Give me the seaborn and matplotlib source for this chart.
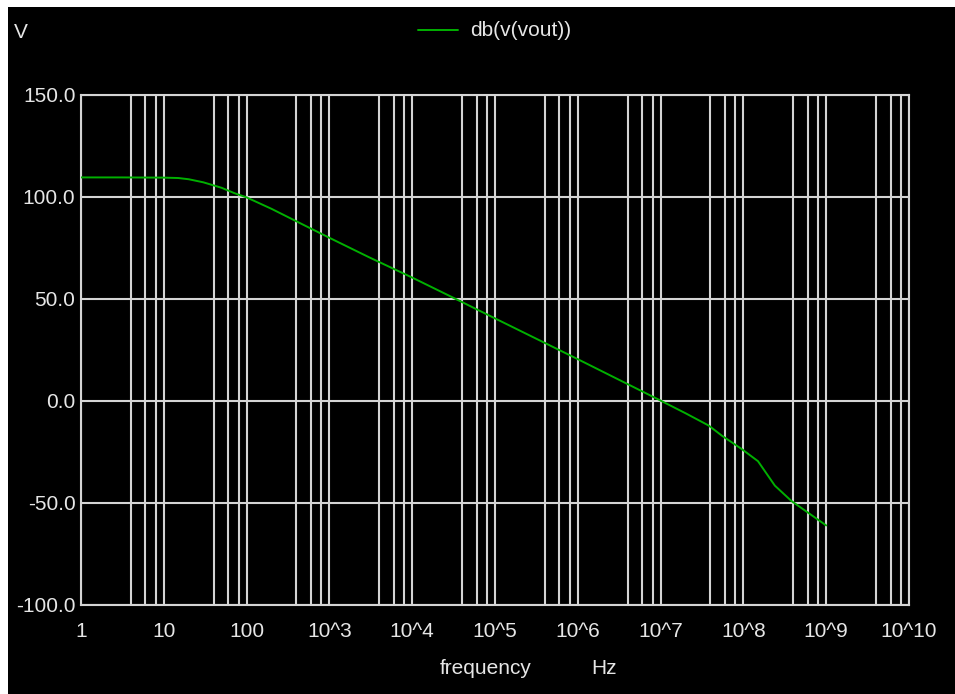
import numpy as np
import pandas as pd
import matplotlib
matplotlib.use('Agg')
import matplotlib.pyplot as plt
from matplotlib.patches import Rectangle
import seaborn as sns

# values (AC sweep, dB of vout)
freq = [1, 3, 10, 15, 20, 30, 50, 70, 100, 200, 500, 1e3, 3e3, 1e4, 3e4, 1e5,
        1e6, 1e7, 2e7, 3.8e7, 5.5e7, 9.5e7, 1.5e8, 2.4e8, 3.8e8, 1e9]
db_vout = [109.6, 109.6, 109.5, 109.3, 108.7, 107.2, 104.5, 102.0, 99.8, 94.2,
           86.1, 80.0, 70.5, 60.5, 51.0, 40.5, 20.5, 0.2, -6.0, -12.0, -17.0,
           -23.5, -29.5, -41.5, -49.0, -61.0]

major_ticks = [10.0 ** k for k in range(0, 11)]
major_labels = ['1', '10', '100'] + ['10^%d' % k for k in range(3, 11)]
minor_ticks = [m * 10.0 ** k for k in range(0, 10) for m in (4, 6, 8)]
y_ticks = [-100, -50, 0, 50, 100, 150]

df = pd.DataFrame({'frequency': freq, 'db': db_vout})

sns.set_style('dark')
plt.rcParams['font.family'] = ['Liberation Sans', 'DejaVu Sans']
txt = '#e6e6e6'
grid = '#d4d4d4'
fs = 15

fig = plt.figure(figsize=(9.55, 6.94), dpi=100, facecolor='white')
# black panel, with thin white margin at top and left like the screenshot
fig.patches.append(Rectangle((8 / 955, 0), 1, 1 - 7 / 694, transform=fig.transFigure,
                             facecolor='black', edgecolor='none', zorder=-10))
ax = fig.add_axes([81 / 955, 1 - 605 / 694, (909 - 81) / 955, (605 - 95) / 694])
ax.set_facecolor('black')

sns.lineplot(data=df, x='frequency', y='db', ax=ax, color='#00b000', linewidth=1.4,
             zorder=3, legend=False)

ax.set_xscale('log')
ax.set_xlim(1, 1e10)
ax.set_ylim(-100, 150)
ax.set_xticks(major_ticks)
ax.set_xticklabels(major_labels)
ax.set_xticks(minor_ticks, minor=True)
ax.xaxis.set_minor_formatter(plt.NullFormatter())
ax.set_yticks(y_ticks)
ax.set_yticklabels(['%.1f' % v for v in y_ticks])

ax.grid(True, which='major', axis='both', color=grid, linewidth=1.5)
ax.grid(True, which='minor', axis='x', color=grid, linewidth=1.5)
for s in ax.spines.values():
    s.set_color(grid)
    s.set_linewidth(1.5)
ax.tick_params(axis='both', which='both', length=0, colors=txt, labelsize=fs)
ax.tick_params(axis='x', pad=12)
ax.tick_params(axis='y', pad=4)
ax.set_xlabel('')
ax.set_ylabel('')

fig.text(14 / 955, 1 - 32 / 694, 'V', color=txt, fontsize=fs, va='center', ha='left')
fig.text(486 / 955, 1 - 668 / 694, 'frequency', color=txt, fontsize=fs, va='center', ha='center')
fig.text(604 / 955, 1 - 668 / 694, 'Hz', color=txt, fontsize=fs, va='center', ha='center')
fig.lines.append(plt.Line2D([418 / 955, 458 / 955], [1 - 30 / 694, 1 - 30 / 694],
                            transform=fig.transFigure, color='#00b000', linewidth=1.4))
fig.text(470 / 955, 1 - 31 / 694, 'db(v(vout))', color=txt, fontsize=fs, va='center', ha='left')

fig.savefig('out.png', dpi=100, facecolor='white')
